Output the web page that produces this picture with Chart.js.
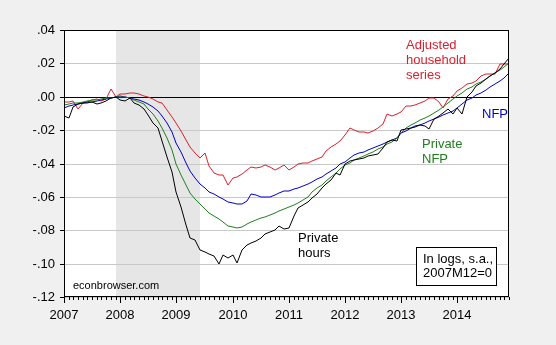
<!DOCTYPE html>
<html>
<head>
<meta charset="utf-8">
<script src="https://cdn.jsdelivr.net/npm/chart.js@4.4.1/dist/chart.umd.min.js"></script>
<style>
  html, body { margin: 0; padding: 0; background: #f0f0f0; }
  canvas { display: block; }
</style>
</head>
<body>
<canvas id="chart" width="556" height="345"></canvas>
<script>
// monthly sample, 2007M01 - 2014M12
const years = [2007, 2008, 2009, 2010, 2011, 2012, 2013, 2014];
const months = [];
years.forEach(function(y) {
    for (let m = 1; m <= 12; m++) months.push(y + "M" + (m < 10 ? "0" + m : m));
});

// log levels relative to 2007M12
const nfp = [
    -0.0065, -0.0058, -0.005, -0.0045, -0.004, -0.0033, -0.003, -0.0025, -0.0018, -0.0012, -0.0007, 0,
    0.0002, 0, -0.0005, -0.0012, -0.002, -0.003, -0.0045, -0.006, -0.0085, -0.0115, -0.0155, -0.021,
    -0.0275, -0.033, -0.0395, -0.0445, -0.0485, -0.052, -0.0548, -0.057, -0.0585, -0.0598, -0.0612, -0.063,
    -0.0638, -0.0645, -0.0642, -0.0625, -0.058, -0.0588, -0.0598, -0.06, -0.0598, -0.059, -0.0575, -0.0565,
    -0.0562, -0.0555, -0.0545, -0.0535, -0.0522, -0.051, -0.0495, -0.048, -0.0462, -0.0445, -0.0425, -0.0405,
    -0.039, -0.037, -0.035, -0.034, -0.033, -0.032, -0.031, -0.0298, -0.0285, -0.027, -0.0258, -0.0245,
    -0.022, -0.0205, -0.019, -0.0178, -0.0168, -0.0158, -0.0148, -0.0136, -0.0122, -0.011, -0.0098, -0.0085,
    -0.0065, -0.0045, -0.0022, -0.0008, 0.001, 0.0025, 0.004, 0.0058, 0.0075, 0.0095, 0.0115, 0.0142
];
const privateNfp = [
    -0.005, -0.0045, -0.004, -0.0035, -0.003, -0.0025, -0.0022, -0.002, -0.0015, -0.001, -0.0005, 0,
    0, -0.0004, -0.001, -0.002, -0.003, -0.0045, -0.0075, -0.0105, -0.0145, -0.019, -0.0245, -0.032,
    -0.04, -0.047, -0.053, -0.0575, -0.061, -0.0645, -0.067, -0.0695, -0.0715, -0.0735, -0.0752, -0.0772,
    -0.0782, -0.0785, -0.078, -0.0765, -0.0748, -0.0738, -0.0728, -0.072, -0.0708, -0.0698, -0.0685, -0.0672,
    -0.066, -0.0648, -0.0636, -0.062, -0.06, -0.0572, -0.0548, -0.053, -0.0505, -0.048, -0.0455, -0.043,
    -0.041, -0.0395, -0.038, -0.037, -0.0355, -0.0342, -0.033, -0.0315, -0.03, -0.0285, -0.027, -0.025,
    -0.022, -0.019, -0.017, -0.0155, -0.014, -0.013, -0.0115, -0.0098, -0.008, -0.006, -0.0035, -0.0015,
    0.0005, 0.0025, 0.0045, 0.006, 0.0075, 0.009, 0.0105, 0.0125, 0.0142, 0.016, 0.018, 0.0205
];
const privateHours = [
    -0.0115, -0.013, -0.006, -0.0045, -0.004, -0.0035, -0.003, -0.0045, -0.0038, -0.0025, -0.001, 0,
    -0.0022, -0.0026, -0.001, -0.0035, -0.005, -0.0075, -0.011, -0.0155, -0.019, -0.0265, -0.036, -0.045,
    -0.057, -0.066, -0.077, -0.0845, -0.0858, -0.092, -0.0932, -0.094, -0.0955, -0.1005, -0.0948, -0.0966,
    -0.0946, -0.0998, -0.092, -0.0886, -0.0875, -0.0866, -0.0848, -0.0825, -0.081, -0.0798, -0.0775, -0.079,
    -0.0785, -0.0716, -0.0665, -0.0646, -0.0632, -0.0605, -0.058, -0.0545, -0.052, -0.0496, -0.0455, -0.0468,
    -0.04, -0.0388, -0.0378, -0.0372, -0.0365, -0.0358, -0.0352, -0.0345, -0.031, -0.0272, -0.0258, -0.0265,
    -0.0198, -0.0192, -0.0186, -0.018, -0.0172, -0.0178, -0.0196, -0.0136, -0.0116, -0.01, -0.0076, -0.0106,
    -0.0066, -0.0106, 0, 0.003, 0.0065, 0.0085, 0.0105, 0.0122, 0.0145, 0.0168, 0.0198, 0.0235
];
const householdAdj = [
    -0.0033, -0.003, -0.0025, -0.0072, -0.0035, -0.003, -0.002, -0.0016, -0.0025, -0.0012, 0.0044, 0,
    0.0014, 0.0018, 0.0024, 0.002, 0.0014, 0.0006, 0, -0.0016, -0.003, -0.004, -0.008, -0.012,
    -0.0155, -0.0205, -0.026, -0.03, -0.034, -0.0365, -0.0336, -0.0415, -0.0455, -0.0466, -0.0468, -0.0526,
    -0.0485, -0.0478, -0.046, -0.0436, -0.0418, -0.0425, -0.0418, -0.041, -0.042, -0.0436, -0.0424, -0.0406,
    -0.0436, -0.042, -0.0402, -0.0396, -0.0398, -0.0385, -0.0376, -0.036, -0.0325, -0.03, -0.0285, -0.0266,
    -0.023, -0.0186, -0.02, -0.0212, -0.021, -0.0218, -0.0205, -0.019, -0.0165, -0.0106, -0.0118, -0.0106,
    -0.009, -0.0056, -0.0058, -0.005, -0.004, -0.0028, -0.001, -0.0006, -0.003, -0.0066, -0.0016, 0.0005,
    0.0034, 0.005, 0.0074, 0.0085, 0.0094, 0.0125, 0.0134, 0.0134, 0.0135, 0.0194, 0.0198, 0.0194
];

const recession = ["2007M12", "2009M06"];
const yTicks = [0.04, 0.02, 0, -0.02, -0.04, -0.06, -0.08, -0.10, -0.12];

const RED = "#dc1e2d", BLUE = "#0000c8", GREEN = "#1f7f1f", BLACK = "#000000";
const FONT = "'Liberation Sans', Arial, sans-serif";

// text labels placed in data units: [month index, value]
const notes = [
    { lines: ["Adjusted", "household", "series"], at: [73, 0.031], color: RED },
    { lines: ["NFP"], at: [89.2, -0.0102], color: BLUE },
    { lines: ["Private", "NFP"], at: [76.5, -0.0283], color: GREEN },
    { lines: ["Private", "hours"], at: [50, -0.0845], color: BLACK }
];

function fmtTick(v) {
    const r = Math.round(v * 100) / 100;
    const s = Math.abs(r).toFixed(2).replace(/^0/, "");
    return (r < 0 ? "-" : "") + s;
}

const decor = {
    id: "decor",
    beforeDraw(chart) {
        const ctx = chart.ctx, a = chart.chartArea, x = chart.scales.x;
        ctx.save();
        ctx.fillStyle = "#ffffff";
        ctx.fillRect(a.left, a.top, a.right - a.left, a.bottom - a.top);
        // recession shading
        const x0 = x.getPixelForValue(months.indexOf(recession[0]));
        const x1 = x.getPixelForValue(months.indexOf(recession[1]));
        ctx.fillStyle = "#e6e6e6";
        ctx.fillRect(x0, a.top, x1 - x0, a.bottom - a.top);
        ctx.restore();
    },
    afterDatasetsDraw(chart) {
        const ctx = chart.ctx, a = chart.chartArea, x = chart.scales.x, y = chart.scales.y;
        ctx.save();
        ctx.strokeStyle = "#000";
        ctx.lineWidth = 1;
        ctx.strokeRect(Math.round(a.left) + 0.5, Math.round(a.top) + 0.5,
            Math.round(a.right - a.left) - 1, Math.round(a.bottom - a.top) - 1);
        // x tick marks: months small, years long
        ctx.beginPath();
        months.forEach(function(m, i) {
            const px = Math.round(x.getPixelForValue(i)) + 0.5;
            ctx.moveTo(px, a.bottom);
            ctx.lineTo(px, a.bottom + (i % 12 === 0 ? 6 : 3));
        });
        // y tick marks
        yTicks.forEach(function(v) {
            const py = Math.round(y.getPixelForValue(v)) + 0.5;
            ctx.moveTo(a.left - 4, py);
            ctx.lineTo(a.left, py);
        });
        ctx.stroke();

        // series labels
        ctx.font = "13px " + FONT;
        ctx.textBaseline = "middle";
        ctx.textAlign = "left";
        notes.forEach(function(n) {
            ctx.fillStyle = n.color;
            const px = x.getPixelForValue(n.at[0]);
            const py = y.getPixelForValue(n.at[1]);
            n.lines.forEach(function(t, k) { ctx.fillText(t, px, py + k * 15); });
        });

        // note box
        const bx = a.right - 93, by = a.bottom - 50;
        ctx.fillStyle = "#fff";
        ctx.fillRect(bx, by, 80, 38);
        ctx.strokeRect(bx + 0.5, by + 0.5, 80, 38);
        ctx.fillStyle = "#000";
        ctx.fillText("In logs, s.a.,", bx + 7, by + 12);
        ctx.fillText("2007M12=0", bx + 7, by + 26);

        ctx.font = "11px " + FONT;
        ctx.fillText("econbrowser.com", a.left + 9, a.bottom - 11);
        ctx.restore();
    }
};

function line(label, data, color) {
    return {
        label: label,
        data: data,
        borderColor: color,
        borderWidth: 1,
        pointRadius: 0,
        tension: 0,
        fill: false
    };
}

new Chart(document.getElementById("chart").getContext("2d"), {
    type: "line",
    data: {
        labels: months,
        datasets: [
            line("Private hours", privateHours, BLACK),
            line("Private NFP", privateNfp, GREEN),
            line("NFP", nfp, BLUE),
            line("Adjusted household series", householdAdj, RED)
        ]
    },
    options: {
        responsive: false,
        animation: false,
        layout: { padding: { left: 0, right: 47, top: 30, bottom: 0 } },
        plugins: { legend: { display: false }, tooltip: { enabled: false } },
        scales: {
            x: {
                type: "category",
                offset: false,
                alignToPixels: true,
                grid: { display: false, drawTicks: false },
                border: { display: false },
                ticks: {
                    autoSkip: false,
                    maxRotation: 0,
                    padding: 11,
                    color: "#000",
                    font: { family: FONT, size: 13 },
                    callback: function(v, i) {
                        return months[i].endsWith("M01") ? months[i].slice(0, 4) : "";
                    }
                },
                afterFit: function(s) { s.height = 48; }
            },
            y: {
                min: -0.12,
                max: 0.04,
                alignToPixels: true,
                afterBuildTicks: function(s) { s.ticks = yTicks.map(function(v) { return { value: v }; }); },
                grid: {
                    drawTicks: false,
                    color: function(c) { return Math.abs(c.tick.value) < 1e-9 ? "#000" : "#c8c8c8"; }
                },
                border: { display: false },
                ticks: {
                    padding: 9,
                    color: "#000",
                    font: { family: FONT, size: 13 },
                    callback: function(v) { return fmtTick(v); }
                },
                afterFit: function(s) { s.width = 64; }
            }
        }
    },
    plugins: [decor]
});
</script>
</body>
</html>
